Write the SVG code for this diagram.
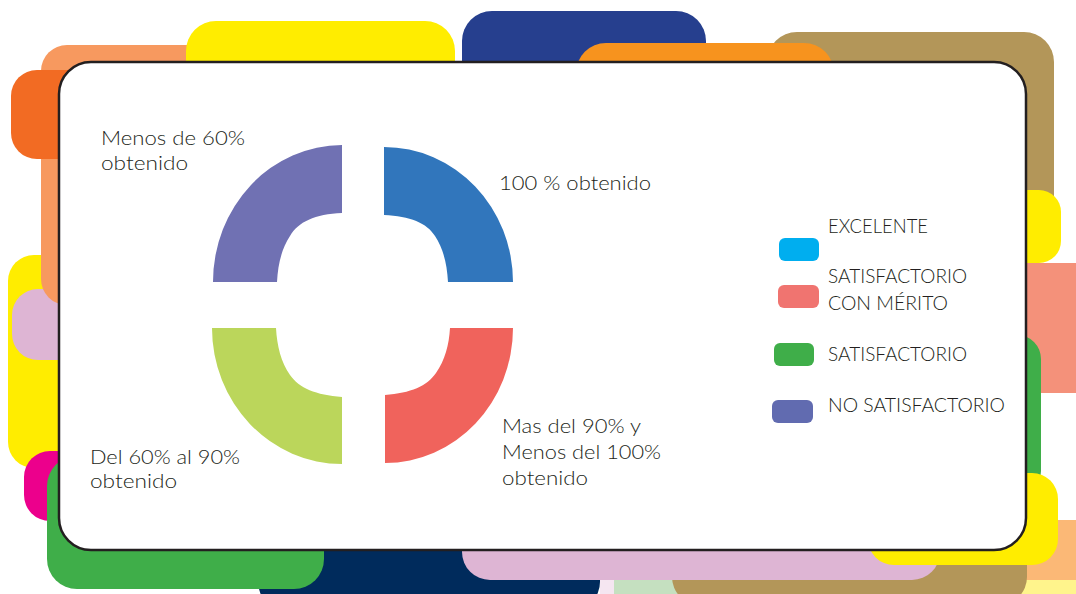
<svg xmlns="http://www.w3.org/2000/svg" width="1076" height="594" viewBox="0 0 1076 594">
<style>
.lbl{font-family:"Lato","DejaVu Sans","Liberation Sans",sans-serif;font-weight:300;font-size:19px;fill:#231f20}
.leg{font-family:"Lato","Liberation Sans",sans-serif;font-weight:300;font-size:19.5px;fill:#231f20}
</style>
<rect width="1076" height="594" fill="#ffffff"/>
<g id="background">
  <rect x="1000" y="520" width="100" height="60" fill="#FBB876"/>
  <rect x="1000" y="580" width="100" height="30" fill="#FFF48C"/>
  <rect x="600" y="560" width="20" height="40" fill="#F5E6F1"/>
  <rect x="614" y="560" width="80" height="40" fill="#C5E0C0"/>
  <rect x="672" y="480" width="355" height="125" rx="28" fill="#B39659"/>
  <rect x="258" y="440" width="342" height="170" rx="28" fill="#002B5C"/>
  <rect x="462" y="480" width="478" height="100" rx="28" fill="#DEB5D4"/>
  <rect x="8" y="255" width="120" height="213" rx="26" fill="#FFED00"/>
  <rect x="12" y="289" width="110" height="71" rx="26" fill="#DEB5D4"/>
  <rect x="24" y="451" width="110" height="70" rx="26" fill="#EC008C"/>
  <rect x="47" y="456" width="277" height="133" rx="30" fill="#3FAE49"/>
  <rect x="41" y="45" width="200" height="260" rx="26" fill="#F7995F"/>
  <rect x="11" y="70" width="100" height="89" rx="26" fill="#F26B23"/>
  <rect x="186" y="21" width="269" height="120" rx="30" fill="#FFED00"/>
  <rect x="462" y="11" width="244" height="120" rx="30" fill="#263F8E"/>
  <rect x="767" y="32" width="287" height="200" rx="30" fill="#B39659"/>
  <rect x="576" y="43" width="258" height="100" rx="30" fill="#F7931E"/>
  <rect x="960" y="190" width="101" height="73" rx="22" fill="#FFED00"/>
  <rect x="960" y="263" width="140" height="130" rx="24" fill="#F4917A"/>
  <rect x="960" y="335" width="81" height="160" rx="24" fill="#3FAE49"/>
  <rect x="868" y="473" width="190" height="92" rx="26" fill="#FFED00"/>
</g>
<g id="card">
  <rect x="59" y="62" width="967" height="488" rx="32" fill="#ffffff" stroke="#231f20" stroke-width="2.5"/>
</g>
<g id="chart">
  <g id="q-menos60"><path d="M342 145 L342 213 C315 214 298 222 290 236 C281 250 278 265 277 282 L213 282 A129 137 0 0 1 342 145 Z" fill="#7071B3"/></g>
  <g id="q-100"><path d="M384 147 A129 135 0 0 1 513 282 L448 282 C447 265 444 250 435 236 C427 223 410 216 384 215 Z" fill="#3176BC"/></g>
  <g id="q-60a90"><path d="M212 328 L276 328 C277 346 281 362 290 375 C299 388 316 395 342 397 L342 464 A130 136 0 0 1 212 328 Z" fill="#BBD65B"/></g>
  <g id="q-90a100"><path d="M450 328 L513 328 A128 135 0 0 1 385 463 L385 395 C411 393 427 386 436 373 C445 360 449 345 450 328 Z" fill="#F0635C"/></g>
</g>
<g id="labels">
  <g id="lbl-menos60">
    <text class="lbl" x="101" y="145" textLength="144" lengthAdjust="spacingAndGlyphs">Menos de 60%</text>
    <text class="lbl" x="101" y="170" textLength="87" lengthAdjust="spacingAndGlyphs">obtenido</text>
  </g>
  <g id="lbl-100">
    <text class="lbl" x="499" y="190" textLength="152" lengthAdjust="spacingAndGlyphs">100 % obtenido</text>
  </g>
  <g id="lbl-60a90">
    <text class="lbl" x="90" y="464" textLength="150" lengthAdjust="spacingAndGlyphs">Del 60% al 90%</text>
    <text class="lbl" x="90" y="488" textLength="87" lengthAdjust="spacingAndGlyphs">obtenido</text>
  </g>
  <g id="lbl-90a100">
    <text class="lbl" x="502" y="433" textLength="139" lengthAdjust="spacingAndGlyphs">Mas del 90% y</text>
    <text class="lbl" x="502" y="459" textLength="159" lengthAdjust="spacingAndGlyphs">Menos del 100%</text>
    <text class="lbl" x="502" y="485" textLength="86" lengthAdjust="spacingAndGlyphs">obtenido</text>
  </g>
</g>
<g id="legend">
  <g id="leg-excelente">
    <rect x="779" y="238" width="40" height="23" rx="6" fill="#00AEEF"/>
    <text class="leg" x="828" y="233" textLength="100" lengthAdjust="spacingAndGlyphs">EXCELENTE</text>
  </g>
  <g id="leg-merito">
    <rect x="778" y="285" width="41" height="23" rx="6" fill="#F07470"/>
    <text class="leg" x="828" y="283" textLength="139" lengthAdjust="spacingAndGlyphs">SATISFACTORIO</text>
    <text class="leg" x="828" y="310" textLength="120" lengthAdjust="spacingAndGlyphs">CON MÉRITO</text>
  </g>
  <g id="leg-satisfactorio">
    <rect x="774" y="343" width="40" height="23" rx="6" fill="#3FAE49"/>
    <text class="leg" x="828" y="361" textLength="139" lengthAdjust="spacingAndGlyphs">SATISFACTORIO</text>
  </g>
  <g id="leg-no">
    <rect x="772" y="400" width="41" height="23" rx="6" fill="#616BB0"/>
    <text class="leg" x="828" y="412" textLength="177" lengthAdjust="spacingAndGlyphs">NO SATISFACTORIO</text>
  </g>
</g>
</svg>
